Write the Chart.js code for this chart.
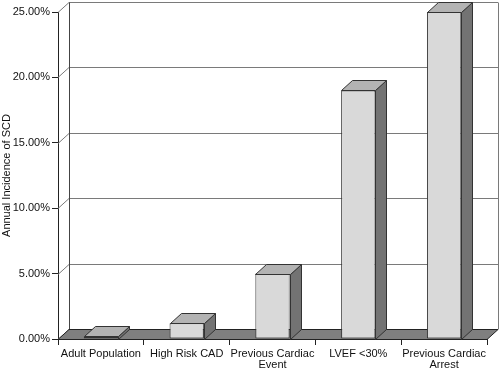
<!DOCTYPE html>
<html>
<head>
<meta charset="utf-8">
<script src="https://cdn.jsdelivr.net/npm/chart.js@4/dist/chart.umd.min.js"></script>
<style>
  html, body { margin: 0; padding: 0; background: #fff; overflow: hidden; }
  #wrap { width: 500px; height: 371px; position: relative; }
</style>
</head>
<body>
<div id="wrap"><canvas id="c"></canvas></div>
<script>
const categories = [
  'Adult Population',
  'High Risk CAD',
  ['Previous Cardiac', 'Event'],
  'LVEF <30%',
  ['Previous Cardiac', 'Arrest']
];
const incidence = [0.002, 0.012, 0.05, 0.19, 0.25];
const yTickValues = [0, 0.05, 0.10, 0.15, 0.20, 0.25];
const yTitle = 'Annual Incidence of SCD';

const DX = 11, DY = -10;
const FONT = '"Liberation Sans", Arial, Helvetica, sans-serif';

const threeD = {
  id: 'threeD',
  beforeDatasetsDraw(chart) {
    const { ctx, chartArea: { left, right, bottom }, scales: { y } } = chart;
    ctx.save();
    ctx.lineWidth = 1;
    ctx.strokeStyle = '#7a7a7a';
    yTickValues.forEach(v => {
      const py = Math.round(y.getPixelForValue(v)) + 0.5;
      ctx.beginPath();
      ctx.moveTo(left, py);
      ctx.lineTo(left + DX, py + DY);
      ctx.lineTo(right + DX, py + DY);
      ctx.stroke();
    });
    const yTop = Math.round(y.getPixelForValue(yTickValues[yTickValues.length - 1])) + 0.5 + DY;
    const yBot = Math.round(y.getPixelForValue(0)) + 0.5 + DY;
    ctx.strokeStyle = '#444';
    ctx.beginPath();
    ctx.moveTo(left + DX + 0.5, yTop);
    ctx.lineTo(left + DX + 0.5, yBot);
    ctx.stroke();
    ctx.strokeStyle = '#7a7a7a';
    ctx.beginPath();
    ctx.moveTo(right + DX + 0.5, yTop);
    ctx.lineTo(right + DX + 0.5, yBot);
    ctx.stroke();
    const b = Math.round(bottom) + 0.5;
    ctx.fillStyle = '#7f7f7f';
    ctx.strokeStyle = '#222';
    ctx.beginPath();
    ctx.moveTo(left, b);
    ctx.lineTo(right, b);
    ctx.lineTo(right + DX, b + DY);
    ctx.lineTo(left + DX, b + DY);
    ctx.closePath();
    ctx.fill();
    ctx.stroke();
    ctx.restore();
  },
  afterDatasetsDraw(chart) {
    const { ctx } = chart;
    const meta = chart.getDatasetMeta(0);
    ctx.save();
    ctx.lineWidth = 1;
    ctx.strokeStyle = '#333';
    meta.data.forEach(bar => {
      const l = Math.round(bar.x - bar.width / 2) + 0.5;
      const r = Math.round(bar.x + bar.width / 2) + 0.5;
      const t = Math.round(bar.y) + 0.5;
      const base = Math.round(bar.base) + 0.5;
      ctx.fillStyle = '#737373';
      ctx.beginPath();
      ctx.moveTo(r, t);
      ctx.lineTo(r + DX, t + DY);
      ctx.lineTo(r + DX, base + DY);
      ctx.lineTo(r, base);
      ctx.closePath();
      ctx.fill();
      ctx.stroke();
      ctx.fillStyle = '#b3b3b3';
      ctx.beginPath();
      ctx.moveTo(l, t);
      ctx.lineTo(r, t);
      ctx.lineTo(r + DX, t + DY);
      ctx.lineTo(l + DX, t + DY);
      ctx.closePath();
      ctx.fill();
      ctx.stroke();
    });
    ctx.restore();
  }
};

new Chart(document.getElementById('c'), {
  type: 'bar',
  data: {
    labels: categories,
    datasets: [{
      data: incidence,
      backgroundColor: '#d9d9d9',
      borderColor: '#333',
      borderWidth: 1,
      borderSkipped: false,
      barPercentage: 0.4,
      categoryPercentage: 1.0
    }]
  },
  options: {
    responsive: true,
    maintainAspectRatio: false,
    animation: false,
    layout: { padding: { top: 12, right: 13, left: 0, bottom: 0 } },
    plugins: { legend: { display: false }, tooltip: { enabled: false } },
    scales: {
      x: {
        grid: { offset: true, drawOnChartArea: false, drawTicks: true, tickLength: 6, color: '#222' },
        border: { display: true, color: '#222' },
        ticks: {
          autoSkip: false, maxRotation: 0, minRotation: 0, padding: 3,
          color: '#111', font: { family: FONT, size: 11, lineHeight: 1.05 }
        },
        afterFit(scale) { scale.height = 32; }
      },
      y: {
        min: 0, max: 0.25,
        afterBuildTicks(scale) { scale.ticks = yTickValues.map(v => ({ value: v })); },
        grid: { drawOnChartArea: false, drawTicks: true, tickLength: 6, color: '#222' },
        border: { display: true, color: '#222' },
        ticks: {
          padding: 2, color: '#111', font: { family: FONT, size: 11 },
          callback: v => (v * 100).toFixed(2) + '%'
        },
        title: {
          display: true, text: yTitle, color: '#111',
          font: { family: FONT, size: 11 }, padding: { top: 0, bottom: 0 }
        },
        afterFit(scale) { scale.width = 58; }
      }
    }
  },
  plugins: [threeD]
});
</script>
</body>
</html>
